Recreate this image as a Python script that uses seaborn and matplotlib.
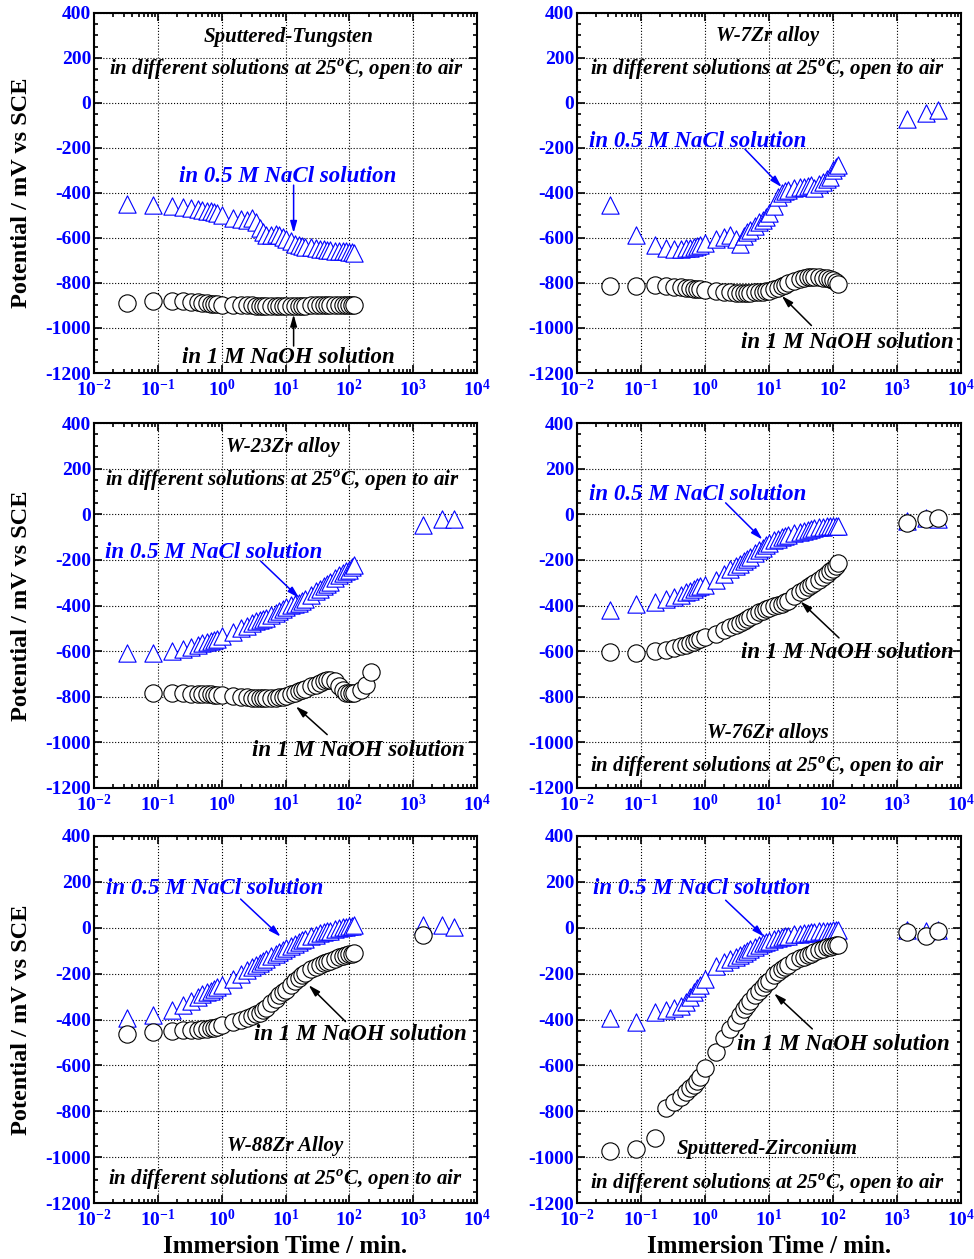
import matplotlib
matplotlib.use("Agg")
import matplotlib.pyplot as plt
from matplotlib.ticker import MultipleLocator
import seaborn as sns

# immersion times (min) of the first two hours, shared by all runs
T_MAIN = [0.033, 0.083, 0.167, 0.25, 0.33, 0.42, 0.5, 0.58, 0.67, 0.75, 0.83, 1.0,
          1.5, 2.0, 2.5, 3.0, 3.5, 4.0, 4.5, 5.0, 6, 7, 8, 9, 10, 12, 14, 16, 18, 20,
          25, 30, 35, 40, 45, 50, 60, 70, 80, 90, 100, 110, 120]
# readings after 1, 2 and 3 days
T_LONG = [1440, 2880, 4320]
# W-23Zr in NaOH starts later and runs a bit longer
T_W23_NAOH = T_MAIN[1:] + [150, 180, 220]

# Sputtered-Tungsten
W_NACL = [-450, -452, -458, -462, -466, -470, -474, -478, -482, -486, -490, -500,
          -510, -515, -518, -510, -530, -555, -575, -585, -585, -582, -585, -595, -605,
          -615, -625, -630, -635, -638, -642, -645, -648, -650, -652, -654, -656, -658,
          -660, -660, -662, -664, -666]
W_NAOH = [-888, -882, -880, -882, -884, -886, -888, -890, -892, -893, -894, -896,
          -898, -899, -900, -900, -901, -901, -901, -902, -902, -902, -902, -902, -902,
          -902, -901, -901, -901, -901, -900, -900, -900, -900, -900, -900, -900, -900,
          -900, -900, -900, -900, -900]

# W-7Zr
W7_NACL = [-455, -588, -632, -645, -648, -648, -646, -644, -640, -636, -632, -622,
           -605, -595, -585, -605, -625, -590, -575, -565, -545, -530, -520, -505, -490,
           -460, -420, -400, -392, -385, -380, -375, -372, -370, -365, -378, -360, -350,
           -340, -330, -300, -285, -275]
W7_NACL_LONG = [-73, -44, -29]
W7_NAOH = [-812, -812, -810, -814, -817, -820, -822, -824, -826, -827, -828, -830,
           -836, -840, -842, -843, -844, -844, -844, -843, -842, -841, -839, -837, -834,
           -828, -822, -815, -808, -800, -790, -782, -777, -774, -773, -773, -774, -776,
           -779, -783, -788, -795, -803]

# W-23Zr
W23_NACL = [-608, -610, -600, -590, -582, -573, -565, -560, -554, -550, -546, -535,
            -518, -500, -488, -478, -470, -463, -458, -453, -443, -434, -425, -415, -405,
            -398, -392, -387, -380, -372, -352, -338, -326, -316, -305, -295, -280, -266,
            -257, -250, -243, -232, -222]
W23_NACL_LONG = [-45, -23, -20]
W23_NAOH = [-784, -784, -785, -786, -787, -788, -789, -790, -791, -792, -794,
            -797, -800, -802, -804, -805, -806, -806, -806, -806, -805, -803, -800, -797,
            -790, -784, -776, -770, -765, -755, -747, -740, -733, -728, -726, -732, -752,
            -772, -782, -785, -785, -784, -770, -747, -690]

# W-76Zr
W76_NACL = [-418, -393, -386, -372, -362, -352, -342, -335, -328, -320, -315, -308,
            -287, -262, -242, -228, -216, -206, -196, -186, -172, -158, -146, -135, -126,
            -115, -107, -100, -94, -89, -82, -76, -72, -68, -64, -61, -58, -55, -53, -52,
            -51, -50, -50]
W76_NACL_LONG = [-30, -15, -20]
W76_NAOH = [-605, -607, -600, -593, -586, -579, -572, -566, -560, -553, -548, -540,
            -526, -507, -495, -485, -475, -466, -458, -450, -440, -430, -422, -416, -411,
            -404, -398, -392, -386, -380, -358, -343, -330, -318, -308, -300, -288, -275,
            -262, -250, -238, -225, -213]
W76_NAOH_LONG = [-38, -23, -16]

# W-88Zr
W88_NACL = [-392, -380, -358, -338, -318, -303, -290, -282, -274, -266, -260, -250,
            -222, -200, -185, -172, -162, -152, -144, -136, -124, -114, -105, -97, -90,
            -80, -70, -62, -54, -48, -38, -31, -25, -20, -16, -12, -6, -2, 2, 5, 7, 9, 10]
W88_NACL_LONG = [12, 12, 4]
W88_NAOH = [-464, -456, -448, -446, -445, -444, -443, -441, -439, -436, -432, -425,
            -412, -400, -392, -385, -378, -370, -360, -350, -330, -310, -295, -282, -270,
            -250, -234, -220, -208, -198, -182, -170, -162, -155, -148, -143, -135, -129,
            -124, -120, -116, -114, -112]
W88_NAOH_LONG = [-30]

# Sputtered-Zirconium
ZR_NACL = [-392, -412, -368, -360, -352, -342, -325, -300, -280, -262, -250, -222,
           -168, -148, -138, -128, -118, -108, -100, -92, -82, -74, -67, -62, -56,
           -50, -45, -41, -37, -34, -29, -26, -23, -21, -19, -18, -16, -14, -13, -12,
           -11, -10, -10]
ZR_NACL_LONG = [-10, -12, -10]
ZR_NAOH = [-972, -965, -918, -788, -760, -738, -716, -700, -686, -668, -650, -612,
           -540, -482, -440, -410, -380, -355, -335, -318, -294, -274, -258, -243, -230,
           -208, -192, -180, -170, -162, -145, -134, -126, -119, -113, -107, -99, -92,
           -86, -82, -79, -77, -75]
ZR_NAOH_LONG = [-17, -36, -15]

TITLES = ["Sputtered-Tungsten", "W-7Zr alloy", "W-23Zr alloy",
          "W-76Zr alloys", "W-88Zr Alloy", "Sputtered-Zirconium"]
SUBTITLE = "in different solutions at 25$^{\\mathdefault{o}}$C, open to air"
NACL_LABEL = "in 0.5 M NaCl solution"
NAOH_LABEL = "in 1 M NaOH solution"

panels = [
    dict(nacl=[(T_MAIN, W_NACL)], naoh=[(T_MAIN, W_NAOH)]),
    dict(nacl=[(T_MAIN, W7_NACL), (T_LONG, W7_NACL_LONG)], naoh=[(T_MAIN, W7_NAOH)]),
    dict(nacl=[(T_MAIN, W23_NACL), (T_LONG, W23_NACL_LONG)], naoh=[(T_W23_NAOH, W23_NAOH)]),
    dict(nacl=[(T_MAIN, W76_NACL), (T_LONG, W76_NACL_LONG)],
         naoh=[(T_MAIN, W76_NAOH), (T_LONG, W76_NAOH_LONG)]),
    dict(nacl=[(T_MAIN, W88_NACL), (T_LONG, W88_NACL_LONG)],
         naoh=[(T_MAIN, W88_NAOH), (T_LONG[:1], W88_NAOH_LONG)]),
    dict(nacl=[(T_MAIN, ZR_NACL), (T_LONG, ZR_NACL_LONG)],
         naoh=[(T_MAIN, ZR_NAOH), (T_LONG, ZR_NAOH_LONG)]),
]

# text placement (axes fraction): title, subtitle, NaCl label, NaOH label
text_pos = [
    [(0.507, 0.933), (0.501, 0.842), (0.507, 0.547), (0.507, 0.044)],
    [(0.495, 0.936), (0.495, 0.842), (0.315, 0.644), (0.703, 0.086)],
    [(0.493, 0.934), (0.493, 0.841), (0.313, 0.644), (0.689, 0.104)],
    [(0.497, 0.151), (0.497, 0.058), (0.315, 0.803), (0.703, 0.370)],
    [(0.499, 0.155), (0.499, 0.063), (0.316, 0.856), (0.695, 0.460)],
    [(0.495, 0.147), (0.495, 0.052), (0.326, 0.856), (0.693, 0.431)],
]
# arrows in data coords: (tail, tip) for NaCl then NaOH
arrows = [
    [((13.4, -365), (13.4, -578)), ((13.4, -1080), (13.4, -940))],
    [((4.2, -205), (15.8, -374)), ((46, -989), (15.8, -857))],
    [((4.1, -206), (16.4, -367)), ((45, -966), (14.5, -842))],
    [((2.1, 50), (7.9, -111)), ((124, -542), (31, -382))],
    [((1.98, 125), (8.4, -39)), ((87, -409), (23, -250))],
    [((2.1, 120), (8.4, -39)), ((47.5, -441), (12, -286))],
]

sns.set_style("ticks")
plt.rcParams['font.family'] = ['Liberation Serif', 'DejaVu Serif']
plt.rcParams['font.weight'] = 'bold'
plt.rcParams['axes.unicode_minus'] = False

fig = plt.figure(figsize=(9.74, 12.59), dpi=100)
W, H = 974, 1259
cols = [(94, 383), (577, 384)]
rows = [(13, 360), (423, 365), (836, 367)]

for i, p in enumerate(panels):
    r, c = divmod(i, 2)
    x0, w = cols[c]
    y0, h = rows[r]
    ax = fig.add_axes([x0 / W, 1 - (y0 + h) / H, w / W, h / H])

    for t, v in p['nacl']:
        sns.scatterplot(x=t, y=v, ax=ax, marker='^', s=155, color='blue',
                        facecolor='white', edgecolor='blue', linewidth=0.8, zorder=3)
    for t, v in p['naoh']:
        sns.scatterplot(x=t, y=v, ax=ax, marker='o', s=155, color='black',
                        facecolor='white', edgecolor='black', linewidth=0.8, zorder=4)

    ax.set_xscale('log')
    ax.set_xlim(1e-2, 1e4)
    ax.set_ylim(-1200, 400)
    ax.yaxis.set_major_locator(MultipleLocator(200))
    ax.yaxis.set_minor_locator(MultipleLocator(50))
    ax.grid(True, which='major', linestyle=':', color='black', linewidth=0.8)
    ax.tick_params(which='both', direction='in', top=True, right=True,
                   color='black', labelcolor='blue', labelsize=14, width=1.2)
    ax.tick_params(which='major', length=6)
    ax.tick_params(which='minor', length=3)
    ax.tick_params(axis='x', pad=4)
    ax.tick_params(axis='y', pad=2)
    for sp in ax.spines.values():
        sp.set_linewidth(1.5)
        sp.set_color('black')

    if c == 0:
        ax.set_ylabel("Potential / mV vs SCE", fontsize=17.5, fontweight='bold',
                      color='black', labelpad=10)
    else:
        ax.set_ylabel("")
    if r == 2:
        ax.set_xlabel("Immersion Time / min.", fontsize=18, fontweight='bold',
                      color='black', labelpad=4)
    else:
        ax.set_xlabel("")

    tp = text_pos[i]
    ax.text(*tp[0], TITLES[i], transform=ax.transAxes, ha='center', va='center',
            fontsize=15, fontstyle='italic', fontweight='bold', color='black')
    ax.text(*tp[1], SUBTITLE, transform=ax.transAxes, ha='center', va='center',
            fontsize=15, fontstyle='italic', fontweight='bold', color='black')
    ax.text(*tp[2], NACL_LABEL, transform=ax.transAxes, ha='center', va='center',
            fontsize=16.5, fontstyle='italic', fontweight='bold', color='blue')
    ax.text(*tp[3], NAOH_LABEL, transform=ax.transAxes, ha='center', va='center',
            fontsize=16.5, fontstyle='italic', fontweight='bold', color='black')

    for (tail, tip), col in zip(arrows[i], ['blue', 'black']):
        ax.annotate('', xy=tip, xytext=tail,
                    arrowprops=dict(arrowstyle='-|>,head_length=0.7,head_width=0.2',
                                    color=col, lw=1.1, shrinkA=0, shrinkB=0),
                    zorder=5)

fig.savefig("out.png", dpi=100)
